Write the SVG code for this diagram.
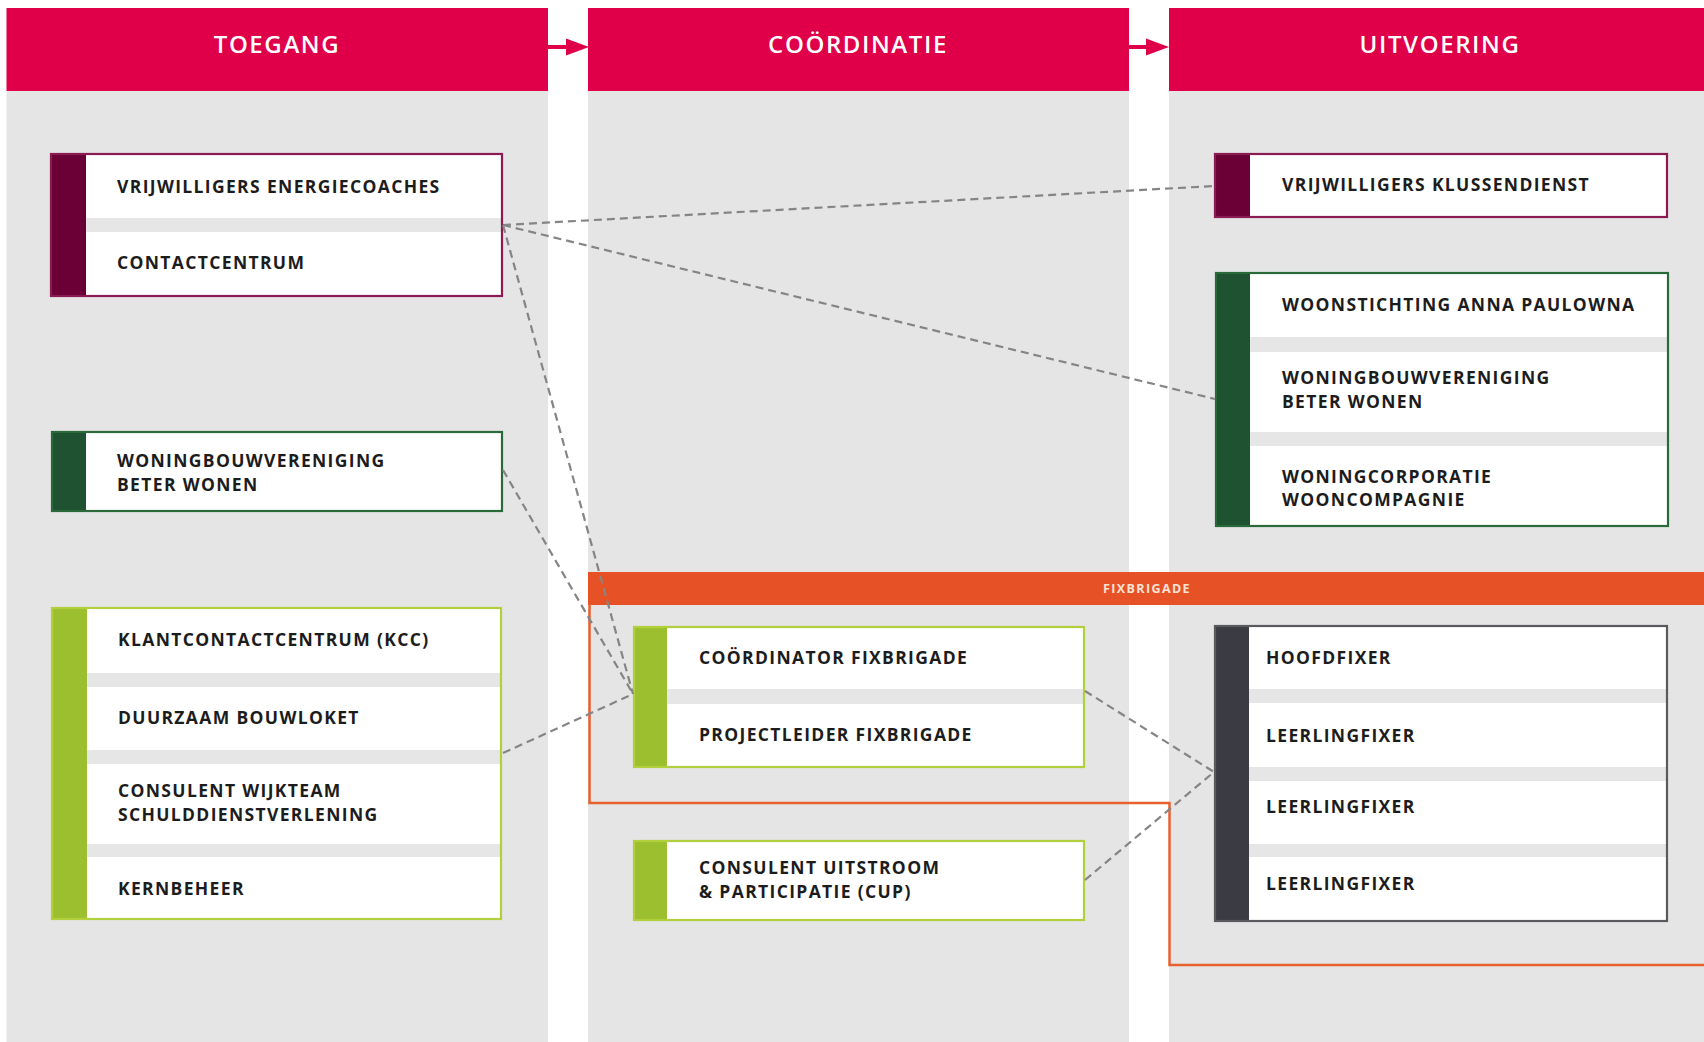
<svg xmlns="http://www.w3.org/2000/svg" width="1704" height="1042" viewBox="0 0 1704 1042">
<defs>
<style>
.col{fill:#e5e5e5}
.hdr{fill:#df0049}
.ht{font-family:"Open Sans","Liberation Sans",sans-serif;font-weight:600;font-size:24px;letter-spacing:1.6px;fill:#fff;text-anchor:middle}
.t{font-family:"Open Sans","Liberation Sans",sans-serif;font-weight:700;font-size:17.5px;letter-spacing:1.35px;fill:#1c1c1c}
.bg{fill:#fff}
.gap{fill:#e6e6e6}
.mar{fill:none;stroke:#8a1a52;stroke-width:2.2}
.dg{fill:none;stroke:#2a6a3a;stroke-width:2.2}
.lg{fill:none;stroke:#b2d03c;stroke-width:2.2}
.gr{fill:none;stroke:#5a5a5e;stroke-width:2.2}
.conn{fill:none;stroke:#858585;stroke-width:2.2;stroke-dasharray:8 5}
.arr{stroke:#df0049;stroke-width:4;fill:none}
</style>
</defs>
<rect width="1704" height="1042" fill="#fff"/>

<g id="columns">
<rect class="col" x="6.5" y="91" width="541.5" height="951"/>
<rect class="col" x="588" y="91" width="541" height="951"/>
<rect class="col" x="1169" y="91" width="535" height="951"/>
<rect class="hdr" x="6.5" y="8" width="541.5" height="83"/>
<rect class="hdr" x="588" y="8" width="541" height="83"/>
<rect class="hdr" x="1169" y="8" width="535" height="83"/>
<text class="ht" x="277" y="53">TOEGANG</text>
<text class="ht" x="858" y="53">COÖRDINATIE</text>
<text class="ht" x="1440" y="53">UITVOERING</text>
</g>

<g id="header-arrows">
<line x1="548" y1="47" x2="568" y2="47" class="arr"/>
<path d="M566,38.5 L589,47 L566,55.5 Z" fill="#df0049"/>
<line x1="1129" y1="47" x2="1148" y2="47" class="arr"/>
<path d="M1146,38.5 L1169,47 L1146,55.5 Z" fill="#df0049"/>
</g>

<g id="fixbrigade">
<rect x="588" y="572" width="1116" height="33" fill="#e65226"/>
<text x="1147" y="592.5" font-family="'Open Sans','Liberation Sans',sans-serif" font-weight="700" font-size="12.5" letter-spacing="1.4" fill="#fbe3d6" text-anchor="middle">FIXBRIGADE</text>
<path d="M589.5,604 V803 H1169.5 V965 H1704" fill="none" stroke="#e8602f" stroke-width="2.5"/>
</g>

<g id="node-energiecoaches">
<rect class="bg" x="51" y="154" width="451" height="142"/>
<rect class="gap" x="86" y="218" width="416" height="14"/>
<rect x="51" y="154" width="35" height="142" fill="#6a0035"/>
<rect class="mar" x="51" y="154" width="451" height="142"/>
<text class="t" x="117" y="193">VRIJWILLIGERS ENERGIECOACHES</text>
<text class="t" x="117" y="269">CONTACTCENTRUM</text>
</g>

<g id="node-beterwonen-l">
<rect class="bg" x="52" y="432" width="450" height="79"/>
<rect x="52" y="432" width="34" height="79" fill="#1f5230"/>
<rect class="dg" x="52" y="432" width="450" height="79"/>
<text class="t" x="117" y="467">WONINGBOUWVERENIGING</text>
<text class="t" x="117" y="491">BETER WONEN</text>
</g>

<g id="node-kcc">
<rect class="bg" x="52" y="608" width="449" height="311"/>
<rect class="gap" x="87" y="673" width="414" height="14"/>
<rect class="gap" x="87" y="750" width="414" height="14"/>
<rect class="gap" x="87" y="844" width="414" height="13"/>
<rect x="52" y="608" width="35" height="311" fill="#9cbf2f"/>
<rect class="lg" x="52" y="608" width="449" height="311"/>
<text class="t" x="118" y="646">KLANTCONTACTCENTRUM (KCC)</text>
<text class="t" x="118" y="724">DUURZAAM BOUWLOKET</text>
<text class="t" x="118" y="797">CONSULENT WIJKTEAM</text>
<text class="t" x="118" y="821">SCHULDDIENSTVERLENING</text>
<text class="t" x="118" y="895">KERNBEHEER</text>
</g>

<g id="node-coordinator">
<rect class="bg" x="634" y="627" width="450" height="140"/>
<rect class="gap" x="667" y="689" width="417" height="15"/>
<rect x="634" y="627" width="33" height="140" fill="#9cbf2f"/>
<rect class="lg" x="634" y="627" width="450" height="140"/>
<text class="t" x="699" y="664">COÖRDINATOR FIXBRIGADE</text>
<text class="t" x="699" y="741">PROJECTLEIDER FIXBRIGADE</text>
</g>

<g id="node-cup">
<rect class="bg" x="634" y="841" width="450" height="79"/>
<rect x="634" y="841" width="33" height="79" fill="#9cbf2f"/>
<rect class="lg" x="634" y="841" width="450" height="79"/>
<text class="t" x="699" y="874">CONSULENT UITSTROOM</text>
<text class="t" x="699" y="898">&amp; PARTICIPATIE (CUP)</text>
</g>

<g id="node-klussendienst">
<rect class="bg" x="1215" y="154" width="452" height="63"/>
<rect x="1215" y="154" width="35" height="63" fill="#6a0035"/>
<rect class="mar" x="1215" y="154" width="452" height="63"/>
<text class="t" x="1282" y="191">VRIJWILLIGERS KLUSSENDIENST</text>
</g>

<g id="node-corporaties">
<rect class="bg" x="1216" y="273" width="452" height="253"/>
<rect class="gap" x="1250" y="337" width="418" height="15"/>
<rect class="gap" x="1250" y="432" width="418" height="14"/>
<rect x="1216" y="273" width="34" height="253" fill="#1f5230"/>
<rect class="dg" x="1216" y="273" width="452" height="253"/>
<text class="t" x="1282" y="311">WOONSTICHTING ANNA PAULOWNA</text>
<text class="t" x="1282" y="384">WONINGBOUWVERENIGING</text>
<text class="t" x="1282" y="408">BETER WONEN</text>
<text class="t" x="1282" y="483">WONINGCORPORATIE</text>
<text class="t" x="1282" y="506">WOONCOMPAGNIE</text>
</g>

<g id="node-fixers">
<rect class="bg" x="1215" y="626" width="452" height="295"/>
<rect class="gap" x="1249" y="689" width="418" height="14"/>
<rect class="gap" x="1249" y="767" width="418" height="14"/>
<rect class="gap" x="1249" y="844" width="418" height="13"/>
<rect x="1215" y="626" width="34" height="295" fill="#3b3c43"/>
<rect class="gr" x="1215" y="626" width="452" height="295"/>
<text class="t" x="1266" y="664">HOOFDFIXER</text>
<text class="t" x="1266" y="742">LEERLINGFIXER</text>
<text class="t" x="1266" y="813">LEERLINGFIXER</text>
<text class="t" x="1266" y="890">LEERLINGFIXER</text>
</g>

<g id="connectors">
<line class="conn" x1="503" y1="225" x2="1214" y2="186"/>
<line class="conn" x1="503" y1="225" x2="1215" y2="399"/>
<line class="conn" x1="503" y1="225" x2="633" y2="694"/>
<line class="conn" x1="503" y1="470" x2="633" y2="694"/>
<line class="conn" x1="503" y1="753" x2="633" y2="694"/>
<line class="conn" x1="1085" y1="691" x2="1214" y2="772"/>
<line class="conn" x1="1085" y1="880" x2="1214" y2="772"/>
</g>
</svg>
